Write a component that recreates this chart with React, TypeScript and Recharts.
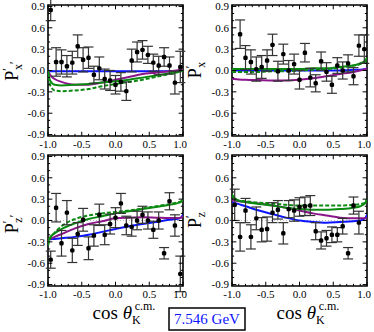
import React from "react";
import { ComposedChart, Line, Scatter, ErrorBar, XAxis, YAxis, ReferenceLine, ReferenceArea } from "recharts";

// cos(theta_K) bin centres shared by all four panels
const cosBins = [
  -0.96, -0.88, -0.8, -0.72, -0.64, -0.56, -0.48, -0.4, -0.32, -0.24, -0.16, -0.08, 0,
  0.08, 0.16, 0.24, 0.32, 0.4, 0.48, 0.56, 0.64, 0.72, 0.8, 0.88, 0.96,
];

// measured points (null = no point in that bin)
const pxpVal = [0.85, 0.12, 0.12, 0.06, 0.11, 0.34, 0.15, 0.18, -0.06, 0.03, -0.12, -0.14, -0.2, -0.16, -0.29, 0.14, 0.26, 0.29, 0.22, 0.11, 0.07, 0.19, 0.07, -0.17, 0.05];
const pxpErr = [0.15, 0.2, 0.17, 0.15, 0.16, 0.16, 0.17, 0.15, 0.12, 0.16, 0.14, 0.14, 0.13, 0.13, 0.13, 0.16, 0.14, 0.13, 0.12, 0.12, 0.13, 0.13, 0.12, 0.16, 0.22];
const pxVal = [null, 0.51, 0.18, 0.12, 0.02, 0.05, 0.14, 0.36, -0.01, 0.23, 0.0, 0.09, -0.13, 0.25, -0.1, -0.18, 0.13, -0.02, -0.2, 0.07, 0.0, 0.1, -0.08, 0.35, 0.3];
const pxErr = [0, 0.2, 0.17, 0.17, 0.17, 0.16, 0.15, 0.15, 0.14, 0.14, 0.14, 0.14, 0.13, 0.13, 0.13, 0.12, 0.13, 0.13, 0.12, 0.11, 0.12, 0.12, 0.12, 0.15, 0.2];
const pzpVal = [-0.55, 0.18, -0.32, 0.11, -0.42, -0.19, 0.01, -0.39, -0.21, 0.08, -0.2, -0.05, 0.04, 0.24, -0.07, -0.09, 0.0, 0.08, 0.0, -0.13, 0.0, -0.46, 0.27, -0.07, -0.75];
const pzpErr = [0.12, 0.2, 0.18, 0.17, 0.17, 0.16, 0.16, 0.16, 0.15, 0.15, 0.14, 0.14, 0.14, 0.14, 0.13, 0.13, 0.13, 0.12, 0.12, 0.12, 0.12, 0.08, 0.12, 0.15, 0.25];
const pzVal = [0.22, -0.23, 0.14, -0.23, 0.03, -0.13, -0.12, 0.11, 0.15, -0.18, 0.16, 0.14, 0.19, 0.2, 0.21, -0.15, -0.28, -0.25, -0.2, -0.2, -0.08, -0.46, 0.21, -0.03, null];
const pzErr = [0.22, 0.2, 0.17, 0.17, 0.16, 0.17, 0.17, 0.14, 0.13, 0.15, 0.12, 0.15, 0.13, 0.13, 0.14, 0.12, 0.12, 0.11, 0.11, 0.1, 0.11, 0.08, 0.12, 0.16, 0];

// model curves, sampled at curveX
const curveX = [-1, -0.97, -0.9, -0.8, -0.6, -0.4, -0.2, 0, 0.2, 0.4, 0.6, 0.8, 0.9, 0.97, 1];

const pxpBlue = [0, -0.01, -0.01, -0.01, -0.01, -0.01, -0.01, -0.01, -0.01, -0.01, -0.01, -0.01, -0.01, 0, 0.01];
const pxpPurple = [0, -0.06, -0.12, -0.16, -0.2, -0.2, -0.17, -0.13, -0.09, -0.05, -0.03, -0.01, 0, 0.01, 0.02];
const pxpGreen = [0, -0.14, -0.2, -0.21, -0.2, -0.19, -0.17, -0.15, -0.13, -0.1, -0.07, -0.04, -0.02, -0.01, 0];
const pxpGreenDash = [0, -0.2, -0.28, -0.29, -0.28, -0.26, -0.22, -0.19, -0.16, -0.13, -0.09, -0.05, -0.03, -0.01, 0];

const pxBlue = [0, 0, 0, 0, 0, 0, 0, 0, 0, 0, 0, 0.01, 0.01, 0.02, 0.03];
const pxPurple = [-0.12, -0.12, -0.125, -0.13, -0.135, -0.14, -0.14, -0.13, -0.11, -0.08, -0.05, -0.02, 0, 0.02, 0.03];
const pxGreen = [0.02, 0.02, 0.02, 0.02, 0.02, 0.02, 0.02, 0.02, 0.03, 0.03, 0.05, 0.07, 0.1, 0.14, 0.18];
const pxGreenDash = [-0.02, -0.02, -0.02, -0.02, -0.02, -0.01, -0.01, 0, 0.01, 0.02, 0.04, 0.07, 0.09, 0.12, 0.15];

const pzpBlue = [-0.27, -0.265, -0.26, -0.25, -0.23, -0.2, -0.16, -0.12, -0.08, -0.05, -0.02, 0.01, 0.02, 0.04, 0.08];
const pzpPurple = [-0.27, -0.26, -0.23, -0.19, -0.11, -0.05, -0.01, 0.03, 0.04, 0.045, 0.04, 0.035, 0.035, 0.04, 0.06];
const pzpGreen = [-0.3, -0.24, -0.18, -0.12, -0.04, 0.02, 0.06, 0.1, 0.13, 0.16, 0.19, 0.22, 0.24, 0.26, 0.3];
const pzpGreenDash = [-0.35, -0.26, -0.17, -0.08, 0.02, 0.07, 0.1, 0.12, 0.14, 0.17, 0.2, 0.23, 0.25, 0.27, 0.3];

const pzBlue = [0.26, 0.25, 0.23, 0.2, 0.14, 0.09, 0.04, 0.0, -0.02, -0.03, -0.02, -0.01, 0.0, 0.03, 0.08];
const pzPurple = [0.28, 0.28, 0.27, 0.26, 0.24, 0.21, 0.18, 0.14, 0.1, 0.07, 0.04, 0.03, 0.03, 0.03, 0.04];
const pzGreen = [0.37, 0.32, 0.28, 0.26, 0.23, 0.21, 0.18, 0.16, 0.15, 0.15, 0.16, 0.18, 0.2, 0.24, 0.3];
const pzGreenDash = [0.36, 0.31, 0.28, 0.27, 0.25, 0.24, 0.22, 0.21, 0.21, 0.21, 0.21, 0.22, 0.23, 0.25, 0.3];

// axis ticks
const xMajor = [-1, -0.5, 0, 0.5, 1];
const xMinor = [-0.9, -0.8, -0.7, -0.6, -0.4, -0.3, -0.2, -0.1, 0.1, 0.2, 0.3, 0.4, 0.6, 0.7, 0.8, 0.9];
const yMajor = [-0.9, -0.6, -0.3, 0, 0.3, 0.6, 0.9];
const yMinor = [-0.8, -0.7, -0.5, -0.4, -0.2, -0.1, 0.1, 0.2, 0.4, 0.5, 0.7, 0.8];

const BLUE = "#0a14ff";
const PURPLE = "#8a168a";
const GREEN = "#0b8a12";
const FONT = "Liberation Serif";
const Y0 = -0.92;
const Y1 = 0.92;

const tickStyle = { fontSize: 11, fill: "#000", fontFamily: FONT };
const fmt = (v: number) => v.toFixed(1);

function Panel({ left, top, vals, errs, curves }: any) {
  const pts = cosBins
    .map((x, i) => ({ x, y: vals[i], err: errs[i] }))
    .filter((p) => p.y !== null);
  const line = (ys: number[]) => curveX.map((x, i) => ({ x, y: ys[i] }));
  // inward tick marks on all four sides
  const tickSegs: any[] = [];
  const addX = (arr: number[], len: number) =>
    arr.forEach((x) => {
      tickSegs.push([{ x, y: Y0 }, { x, y: Y0 + len }]);
      tickSegs.push([{ x, y: Y1 }, { x, y: Y1 - len }]);
    });
  const addY = (arr: number[], len: number) =>
    arr.forEach((y) => {
      tickSegs.push([{ x: -1, y }, { x: -1 + len, y }]);
      tickSegs.push([{ x: 1, y }, { x: 1 - len, y }]);
    });
  addX(xMajor, 0.06);
  addX(xMinor, 0.03);
  addY(yMajor, 0.065);
  addY(yMinor, 0.032);
  const curveProps = { type: "monotone" as const, strokeWidth: 2, dot: false, isAnimationActive: false, dataKey: "y" };
  return (
    <div style={{ position: "absolute", left, top }}>
      <ComposedChart width={187} height={152} margin={{ top: 5, right: 4, bottom: 2, left: 8 }}>
        <XAxis type="number" dataKey="x" domain={[-1, 1]} ticks={xMajor} tickFormatter={fmt}
          tickSize={0} tickMargin={4} height={14} axisLine={false} tickLine={false} tick={tickStyle} allowDataOverflow />
        <YAxis type="number" domain={[Y0, Y1]} ticks={yMajor} tickFormatter={fmt}
          tickSize={0} tickMargin={3} width={40} axisLine={false} tickLine={false} tick={tickStyle} allowDataOverflow />
        <ReferenceLine y={0} stroke="#bbb" strokeDasharray="1 2" />
        <Line data={line(curves[0])} stroke={BLUE} {...curveProps} />
        <Line data={line(curves[1])} stroke={PURPLE} {...curveProps} />
        <Line data={line(curves[2])} stroke={GREEN} {...curveProps} />
        <Line data={line(curves[3])} stroke={GREEN} strokeDasharray="4 2" {...curveProps} />
        <Scatter data={pts} dataKey="y" isAnimationActive={false}
          shape={(p: any) => <rect x={p.cx - 2.2} y={p.cy - 2.2} width={4.4} height={4.4} rx={1.5} fill="#000" />}>
          <ErrorBar dataKey="err" direction="y" width={5} stroke="#333" strokeWidth={1.2} isAnimationActive={false} />
        </Scatter>
        {tickSegs.map((s, i) => (
          <ReferenceLine key={i} segment={s} stroke="#000" strokeWidth={1} ifOverflow="visible" />
        ))}
        <ReferenceArea x1={-1} x2={1} y1={Y0} y2={Y1} fill="none" fillOpacity={0} stroke="#000"
          strokeWidth={1.6} ifOverflow="visible" />
      </ComposedChart>
    </div>
  );
}

function YLabel({ x, y, sub, primeSub }: any) {
  return (
    <text transform={`translate(${x},${y}) rotate(-90)`} textAnchor="middle" fontSize={18} fontFamily={FONT}>
      P
      <tspan fontSize={12} dy={-7}>′</tspan>
      <tspan fontSize={12} dx={-2} dy={11}>{sub}</tspan>
      {primeSub ? <tspan fontSize={12} dy={-4}>′</tspan> : null}
    </text>
  );
}

function XTitle({ cx, y }: any) {
  return (
    <text x={cx} y={y} textAnchor="middle" fontSize={19} fontFamily={FONT}>
      cos <tspan fontStyle="italic">θ</tspan>
      <tspan fontSize={12} dy={5}>K</tspan>
      <tspan fontSize={12} dx={-6} dy={-14}>c.m.</tspan>
    </text>
  );
}

export default function App() {
  return (
    <div style={{ position: "absolute", left: 0, top: 0, width: 374, height: 332, background: "#fff" }}>
      <Panel left={0} top={0} vals={pxpVal} errs={pxpErr} curves={[pxpBlue, pxpPurple, pxpGreen, pxpGreenDash]} />
      <Panel left={184} top={0} vals={pxVal} errs={pxErr} curves={[pxBlue, pxPurple, pxGreen, pxGreenDash]} />
      <Panel left={0} top={150} vals={pzpVal} errs={pzpErr} curves={[pzpBlue, pzpPurple, pzpGreen, pzpGreenDash]} />
      <Panel left={184} top={150} vals={pzVal} errs={pzErr} curves={[pzBlue, pzPurple, pzGreen, pzGreenDash]} />
      <svg width={374} height={332} style={{ position: "absolute", left: 0, top: 0, pointerEvents: "none" }}>
        <YLabel x={18} y={71} sub="x" primeSub />
        <YLabel x={201} y={70} sub="x" />
        <YLabel x={18} y={224} sub="z" primeSub />
        <YLabel x={201} y={220} sub="z" />
        <XTitle cx={124} y={319} />
        <XTitle cx={308} y={319} />
        <rect x={169} y={308} width={76} height={22} fill="#fff" stroke="#000" strokeWidth={1.5} />
        <text x={207} y={324} textAnchor="middle" fontSize={15} fontFamily={FONT} fill={BLUE}>7.546 GeV</text>
      </svg>
    </div>
  );
}
